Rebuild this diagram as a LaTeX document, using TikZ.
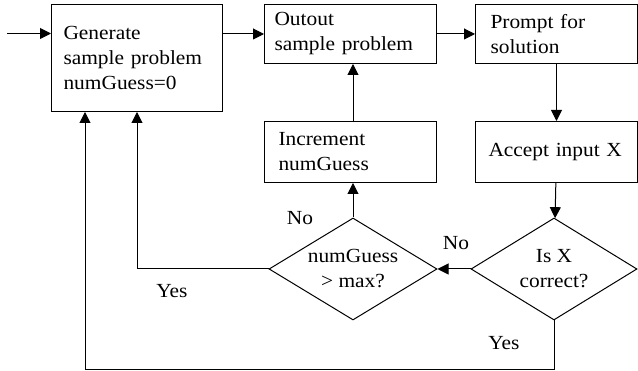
\documentclass[tikz,border=0pt]{standalone}
\usepackage{fontspec}
\setmainfont{Liberation Serif}[FakeStretch=1.07]
\usetikzlibrary{arrows.meta,shapes.geometric}

\begin{document}
\begin{tikzpicture}[x=1pt,y=-1pt,
  every node/.style={font=\fontsize{20}{25}\selectfont},
  line/.style={line width=1pt},
  arr/.style={line, -{Triangle[length=11pt,width=11pt]}},
  stepbox/.style={draw, line width=1pt, anchor=north west, align=left,
    inner ysep=0pt},
  decision/.style={draw, line width=1pt, diamond, shape aspect=1.65,
    inner sep=-3pt, align=center},
  lbl/.style={inner sep=0pt}]
  \useasboundingbox (0,0) rectangle (638,371);

  % process boxes
  \node[stepbox, inner xsep=12pt, text width=147pt, minimum height=107pt] (gen) at (51,4)
    {Generate\\sample problem\\numGuess=0};
  \node[stepbox, inner xsep=10pt, text width=152pt, minimum height=59pt] (out) at (264,4)
    {Outout\\sample problem};
  \node[stepbox, inner xsep=15pt, text width=132pt, minimum height=59pt] (prompt) at (475,4)
    {Prompt for\\solution};
  \node[stepbox, inner xsep=14pt, text width=144pt, minimum height=61pt] (inc) at (264,121)
    {Increment\\numGuess};
  \node[stepbox, inner xsep=13pt, text width=136pt, minimum height=61pt] (acc) at (475,121)
    {Accept input X};

  % decisions
  \node[decision, minimum width=168pt, minimum height=102pt] (max) at (353,269)
    {numGuess\\> max?};
  \node[decision, minimum width=166pt, minimum height=102pt] (chk) at (554,269)
    {Is X\\correct?};

  % free ends of connectors
  \coordinate (start) at (7,33.5);
  \coordinate (loop) at (85,370);

  % connectors
  \draw[arr] (start) -- (start -| gen.west);
  \draw[arr] (out.west -| gen.east) -- (out.west);
  \draw[arr] (out) -- (prompt);
  \draw[arr] (prompt) -- (acc);
  \draw[arr] (acc) -- (chk);
  \draw[arr] (chk) -- (max);
  \draw[arr] (max.north) -- (max.north |- inc.south);
  \draw[arr] (inc.north -| max.north) -- (max.north |- out.south);
  \draw[arr] (max.west) -| (gen.south);
  \draw[arr] (chk.south) |- (loop) -- (loop |- gen.south);

  % branch labels
  \node[lbl] at (300,218) {No};
  \node[lbl] at (456,243) {No};
  \node[lbl] at (172,291) {Yes};
  \node[lbl] at (504,343) {Yes};
\end{tikzpicture}
\end{document}
